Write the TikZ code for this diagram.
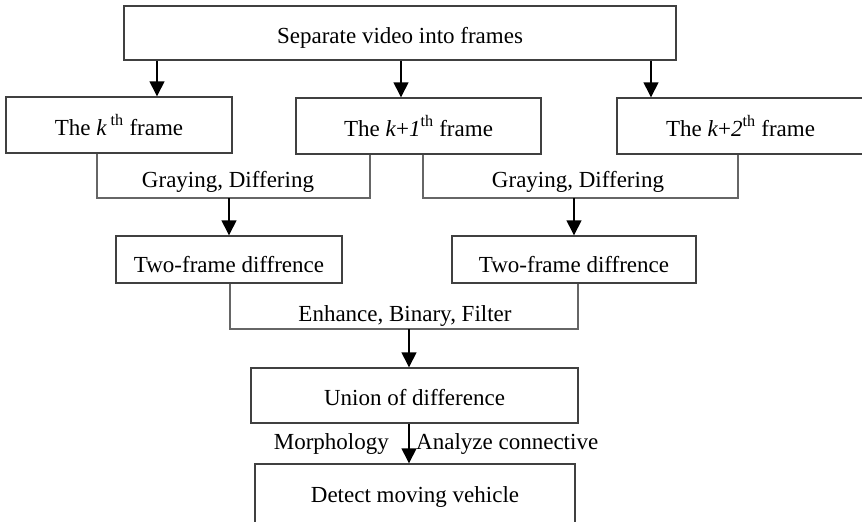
\documentclass[tikz,border=0pt]{standalone}
\usepackage{fontspec}
\setmainfont{Liberation Serif}
\usetikzlibrary{arrows.meta}
\begin{document}
\begin{tikzpicture}[x=1pt,y=-1pt,
 box/.style={draw=black!75,line width=1.4pt,rectangle,inner sep=0pt,text height=22pt,text depth=2pt,font=\fontsize{23}{27}\selectfont},
 lbl/.style={inner sep=0pt,anchor=base,font=\fontsize{23}{27}\selectfont},
 brk/.style={draw=black!60,line width=1.4pt,line join=miter},
 arr/.style={draw=black,line width=1.4pt,-{Triangle[length=15pt,width=15pt]}}]
\useasboundingbox[fill=white] (0,0) rectangle (862,522);
% boxes
\node[box,minimum width=552pt,minimum height=54pt] (top) at (400,33) {Separate video into frames};
\node[box,minimum width=226pt,minimum height=56pt] (k) at (119,125) {The \textit{k}\,\textsuperscript{th} frame};
\node[box,minimum width=245pt,minimum height=56pt] (k1) at (418.5,126) {The \textit{k}+\textit{1}\textsuperscript{th} frame};
\node[box,minimum width=247pt,minimum height=56pt] (k2) at (740.5,126) {The \textit{k}+\textit{2}\textsuperscript{th} frame};
\node[box,minimum width=226pt,minimum height=47pt,text height=27pt] (tf1) at (229,259.5) {Two-frame diffrence};
\node[box,minimum width=244pt,minimum height=47pt,text height=27pt] (tf2) at (574,259.5) {Two-frame diffrence};
\node[box,minimum width=327pt,minimum height=55pt,text height=21pt] (un) at (414.5,395.5) {Union of difference};
\node[box,minimum width=320pt,minimum height=60pt,text height=18pt] (det) at (415,494) {Detect moving vehicle};
% helper coordinates
\coordinate (a1) at (157,0);
\coordinate (a2) at (401,0);
\coordinate (a3) at (651,0);
\coordinate (g1l) at (97,198);
\coordinate (g1r) at (370,198);
\coordinate (g2l) at (423,198);
\coordinate (g2r) at (738,198);
\coordinate (e1l) at (230,329);
\coordinate (e1r) at (578,329);
\coordinate (ax) at (409,0);
% arrows from top
\draw[arr] (top.south -| a1) -- (k.north -| a1);
\draw[arr] (top.south -| a2) -- (k1.north -| a2);
\draw[arr] (top.south -| a3) -- (k2.north -| a3);
% brackets
\draw[brk] (k.south -| g1l) -- (g1l) -- (g1r) -- (k1.south -| g1r);
\draw[brk] (k1.south -| g2l) -- (g2l) -- (g2r) -- (k2.south -| g2r);
\draw[arr] (tf1.north |- g1l) -- (tf1.north);
\draw[arr] (tf2.north |- g2l) -- (tf2.north);
\node[lbl] (l1) at (228,187) {Graying, Differing};
\node[lbl] (l2) at (578,187) {Graying, Differing};
\draw[brk] (tf1.south -| e1l) -- (e1l) -- (e1r) -- (tf2.south -| e1r);
\draw[arr] (e1l -| ax) -- (un.north -| ax);
\node[lbl] (l3) at (405,321) {Enhance, Binary, Filter};
\draw[arr] (un.south -| ax) -- (det.north -| ax);
\node[lbl,anchor=base east] (l4) at (389,449) {Morphology};
\node[lbl,anchor=base west] (l5) at (416,449) {Analyze connective};
\end{tikzpicture}
\end{document}
